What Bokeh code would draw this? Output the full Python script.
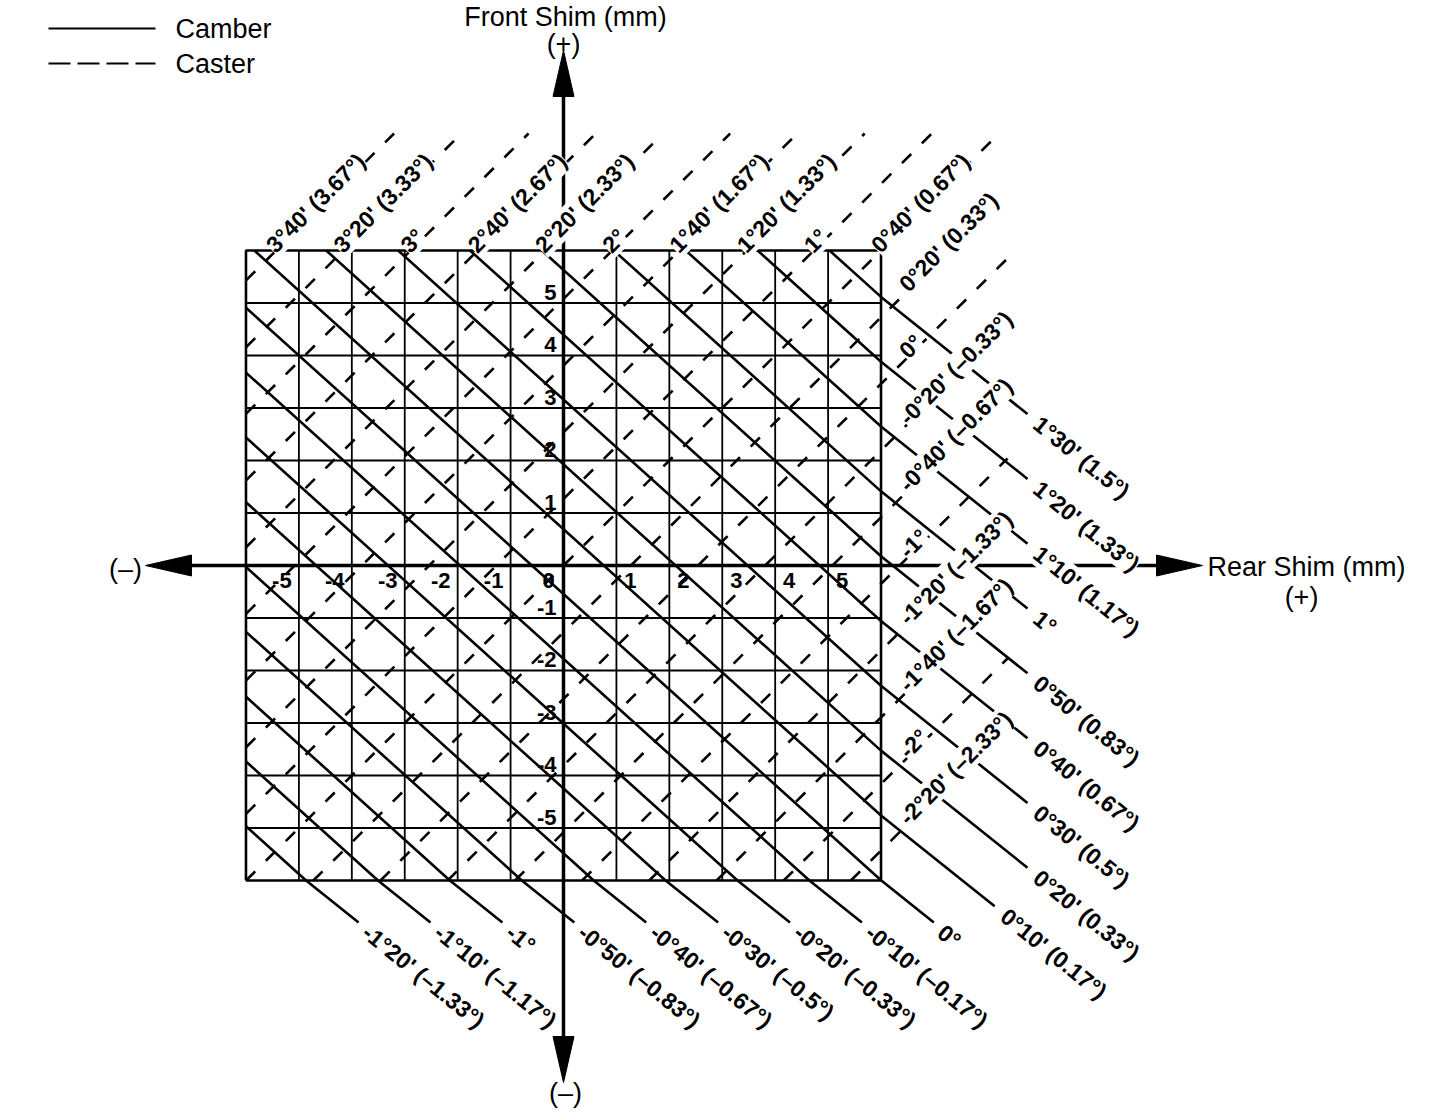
import numpy as np
from bokeh.plotting import figure
from bokeh.models import Range1d
from bokeh.core.properties import value
from bokeh.embed import file_html
from bokeh.resources import INLINE

# ---------------- data ----------------
shim_ticks = [-5, -4, -3, -2, -1, 0, 1, 2, 3, 4, 5]
grid_lines = [-6, -5, -4, -3, -2, -1, 0, 1, 2, 3, 4, 5, 6]

camber_min = [-80, -70, -60, -50, -40, -30, -20, -10, 0, 10, 20, 30, 40, 50, 60, 70, 80, 90]
camber_labels = ["-1°20' (–1.33°)", "-1°10' (–1.17°)", "-1°", "-0°50' (–0.83°)",
                 "-0°40' (–0.67°)", "-0°30' (–0.5°)", "-0°20' (–0.33°)", "-0°10' (–0.17°)",
                 "0°", "0°10' (0.17°)", "0°20' (0.33°)", "0°30' (0.5°)", "0°40' (0.67°)",
                 "0°50' (0.83°)", "1°", "1°10' (1.17°)", "1°20' (1.33°)", "1°30' (1.5°)"]

caster_deg = [3.667, 3.333, 3.0, 2.667, 2.333, 2.0, 1.667, 1.333, 1.0, 0.667, 0.333,
              0.0, -0.333, -0.667, -1.0, -1.333, -1.667, -2.0, -2.333]
caster_labels = ["3°40' (3.67°)", "3°20' (3.33°)", "3°", "2°40' (2.67°)", "2°20' (2.33°)",
                 "2°", "1°40' (1.67°)", "1°20' (1.33°)", "1°", "0°40' (0.67°)",
                 "0°20' (0.33°)", "0°", "-0°20' (–0.33°)", "-0°40' (–0.67°)", "-1°",
                 "-1°20' (–1.33°)", "-1°40' (–1.67°)", "-2°", "-2°20' (–2.33°)"]

# chart geometry
CAMBER_REAR = 7.36    # minutes per mm of rear shim
CAMBER_FRONT = 8.1    # minutes per mm of front shim
CAMBER_0 = 4.4        # minutes at origin
CASTER_MM_PER_DEG = 3.81
CASTER_0 = 0.667

# ---------------- layout helpers (image px -> data) ----------------
PX, PY = 52.92, 52.5
CX, CY = 563.0, 565.0
W, H = 1440, 1112


def X(ix):
    return (ix - CX) / PX


def Y(iy):
    return (CY - iy) / PY


FONT = value("Liberation Sans")

p = figure(width=W, height=H, x_range=Range1d(X(0), X(W)), y_range=Range1d(Y(H), Y(0)),
           output_backend="svg", toolbar_location=None, min_border=0,
           x_axis_location=None, y_axis_location=None)
p.grid.visible = False
p.outline_line_color = None
p.background_fill_color = "white"
p.border_fill_color = "white"

G0, G1 = grid_lines[0], grid_lines[-1]
inner = grid_lines[1:-1]

# grid
p.segment(x0=inner, y0=G0, x1=inner, y1=G1, line_color="black", line_width=1.8)
p.segment(x0=G0, y0=inner, x1=G1, y1=inner, line_color="black", line_width=1.8)
p.line([G0, G1, G1, G0, G0], [G0, G0, G1, G1, G0], line_color="black", line_width=2.6)

# ---------------- camber lines (solid) ----------------
EXT_SLOPE = 0.8
cam_xs, cam_ys, cam_end_x, cam_end_y, cam_side = [], [], [], [], []
for c in camber_min:
    x_in = (c - CAMBER_0 - CAMBER_FRONT * G1) / CAMBER_REAR
    if x_in >= G0:
        sx, sy = x_in, G1
    else:
        sx, sy = G0, (c - CAMBER_0 - CAMBER_REAR * G0) / CAMBER_FRONT
    y_out = (c - CAMBER_0 - CAMBER_REAR * G1) / CAMBER_FRONT
    if y_out >= G0:
        ex, ey = G1, y_out
    else:
        ex, ey = (c - CAMBER_0 - CAMBER_FRONT * G0) / CAMBER_REAR, G0
    ipx, ipy = CX + ex * PX, CY - ey * PY
    t1 = 1027 - ipx
    t2 = (922 - ipy) / EXT_SLOPE
    t3 = (1900 - ipx - ipy) / (1 + EXT_SLOPE)
    t = min(t1, t2, t3)
    epx, epy = ipx + t, ipy + EXT_SLOPE * t
    cam_xs.append([sx, ex, X(epx)])
    cam_ys.append([sy, ey, Y(epy)])
    cam_end_x.append(X(epx))
    cam_end_y.append(Y(epy))
    cam_side.append("right" if epx > 960 else "bottom")

p.multi_line(cam_xs, cam_ys, line_color="black", line_width=2.6)

# ---------------- caster lines (dashed) ----------------
XMAX_EXT, YMAX_EXT = X(1007), Y(133)
cas_xs, cas_ys = [], []
top_x, top_y, top_t, right_x, right_y, right_t = [], [], [], [], [], []
for v, lab in zip(caster_deg, caster_labels):
    d = (v - CASTER_0) * CASTER_MM_PER_DEG
    if d >= 0:
        sx, sy = G0, G0 + d
    else:
        sx, sy = G0 - d, G0
    xe = min(XMAX_EXT, YMAX_EXT - d)
    cas_xs.append([sx, xe])
    cas_ys.append([sy, xe + d])
    if d >= -0.05:
        top_x.append(G1 - d)
        top_y.append(G1)
        top_t.append(lab)
    else:
        ax = G1 + 26 / PX
        right_x.append(ax)
        right_y.append(ax + d)
        right_t.append(lab)

p.multi_line(cas_xs, cas_ys, line_color="black", line_width=2.6, line_dash="13 15")

# ---------------- axes with arrows ----------------
p.line([X(188), X(1158)], [0, 0], line_color="black", line_width=3.5)
p.line([0, 0], [Y(92), Y(1042)], line_color="black", line_width=3.5)
AL, AW = 46, 10.5
p.patches(
    xs=[[X(145), X(145 + AL), X(145 + AL)],
        [X(1202), X(1202 - AL), X(1202 - AL)],
        [X(CX - AW), X(CX + AW), 0],
        [X(CX - AW), X(CX + AW), 0]],
    ys=[[0, Y(CY - AW), Y(CY + AW)],
        [0, Y(CY - AW), Y(CY + AW)],
        [Y(50 + AL), Y(50 + AL), Y(50)],
        [Y(1082 - AL), Y(1082 - AL), Y(1082)]],
    fill_color="black", line_color="black", line_width=1)

# ---------------- labels ----------------
LAB = dict(text_font=FONT, text_font_style="bold", text_font_size="23px", text_color="black")

# caster labels
p.text(x=top_x, y=top_y, text=top_t, angle=np.pi / 4, text_align="left",
       text_baseline="alphabetic", x_offset=-6, y_offset=-2,
       background_fill_color="white", **LAB)
p.text(x=right_x, y=right_y, text=right_t, angle=np.pi / 4, text_align="left",
       text_baseline="alphabetic", x_offset=-4, y_offset=-4,
       background_fill_color="white", **LAB)

# camber labels
ang = -np.deg2rad(39)
bx = [x for x, s in zip(cam_end_x, cam_side) if s == "bottom"]
by = [y for y, s in zip(cam_end_y, cam_side) if s == "bottom"]
bt = [t for t, s in zip(camber_labels, cam_side) if s == "bottom"]
rx = [x for x, s in zip(cam_end_x, cam_side) if s == "right"]
ry = [y for y, s in zip(cam_end_y, cam_side) if s == "right"]
rt = [t for t, s in zip(camber_labels, cam_side) if s == "right"]
p.text(x=bx, y=by, text=bt, angle=ang, text_align="left", text_baseline="middle",
       x_offset=7, y_offset=7, **LAB)
p.text(x=rx, y=ry, text=rt, angle=ang, text_align="left", text_baseline="middle",
       x_offset=9, y_offset=7, background_fill_color="white", **LAB)

# tick labels
TK = dict(text_font=FONT, text_font_style="bold", text_font_size="22px", text_color="black")
xt = [t for t in shim_ticks]
xoff = [-17 if t < 0 else (-15 if t == 0 else 14) for t in xt]
p.text(x=xt, y=[0] * len(xt), text=[str(t) for t in xt], x_offset=xoff, y_offset=15,
       text_align="center", text_baseline="middle", **TK)
yt = [t for t in shim_ticks if t != 0]
p.text(x=[0] * len(yt), y=yt, text=[str(t) for t in yt], x_offset=-7, y_offset=-11,
       text_align="right", text_baseline="middle", **TK)

# axis titles
TT = dict(text_font=FONT, text_font_size="27px", text_color="black", text_baseline="middle")
p.text(x=[X(565)], y=[Y(16)], text=["Front Shim (mm)"], text_align="center", **TT)
p.text(x=[X(563)], y=[Y(43)], text=["(+)"], text_align="center", **TT)
p.text(x=[X(1207)], y=[Y(566)], text=["Rear Shim (mm)"], text_align="left", **TT)
p.text(x=[X(1301)], y=[Y(596)], text=["(+)"], text_align="center", **TT)
p.text(x=[X(125)], y=[Y(568)], text=["(–)"], text_align="center", **TT)
p.text(x=[X(565)], y=[Y(1092)], text=["(–)"], text_align="center", **TT)

# legend
p.line([X(48), X(155)], [Y(28), Y(28)], line_color="black", line_width=1.8)
p.line([X(48), X(155)], [Y(63), Y(63)], line_color="black", line_width=1.8, line_dash="22 7")
p.text(x=[X(175), X(175)], y=[Y(28), Y(63)], text=["Camber", "Caster"], text_align="left", **TT)

open("out.html", "w").write(file_html(p, INLINE))
